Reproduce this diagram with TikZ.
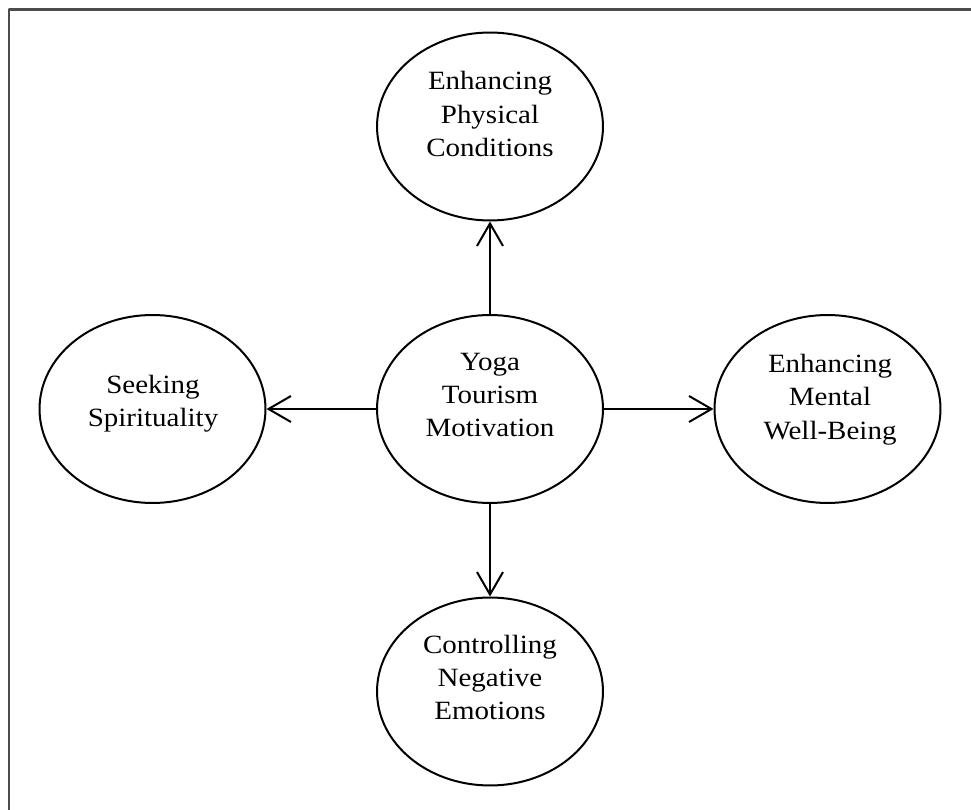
\documentclass[tikz,border=0pt]{standalone}
\usepackage{fontspec}
\setmainfont[FakeStretch=1.1]{Liberation Serif}
\usetikzlibrary{arrows.meta,shapes.geometric}
\begin{document}
\begin{tikzpicture}[x=0.02cm,y=-0.02cm,line join=round,line cap=round,
	>={Straight Barb[length=0.45cm,width=0.52cm]},
	oval/.style={draw,ellipse,line width=0.04cm,minimum width=4.52cm,minimum height=3.76cm,inner sep=0pt},
	txt/.style={align=center,inner sep=0pt,font=\fontsize{15}{19}\selectfont}]
	\def\cx{490} \def\cy{409} \def\dx{337.5} \def\dy{282.5}
	\useasboundingbox (0,0) rectangle (971,810);
	\draw[line width=0.06cm,black!70,line cap=butt] (9,810) -- (9,10) -- (971,10);
	\node[oval] (mot) at (\cx,\cy) {};
	\node[oval] (phys) at (\cx,\cy-\dy) {};
	\node[oval] (emot) at (\cx,\cy+\dy) {};
	\node[oval] (seek) at (\cx-\dx,\cy) {};
	\node[oval] (ment) at (\cx+\dx,\cy) {};
	\node[txt] (motT) at (\cx,395) {Yoga\\Tourism\\Motivation};
	\node[txt] (physT) at (\cx,114) {Enhancing\\Physical\\Conditions};
	\node[txt] (emotT) at (\cx,677.5) {Controlling\\Negative\\Emotions};
	\node[txt] (seekT) at (153,404) {Seeking\\Spirituality};
	\node[txt] (mentT) at (830,399.5) {Enhancing\\Mental\\Well-Being};
	\draw[->,line width=0.04cm] (mot) -- (phys);
	\draw[->,line width=0.04cm] (mot) -- (emot);
	\draw[->,line width=0.04cm] (mot) -- (seek);
	\draw[->,line width=0.04cm] (mot) -- (ment);
\end{tikzpicture}
\end{document}
